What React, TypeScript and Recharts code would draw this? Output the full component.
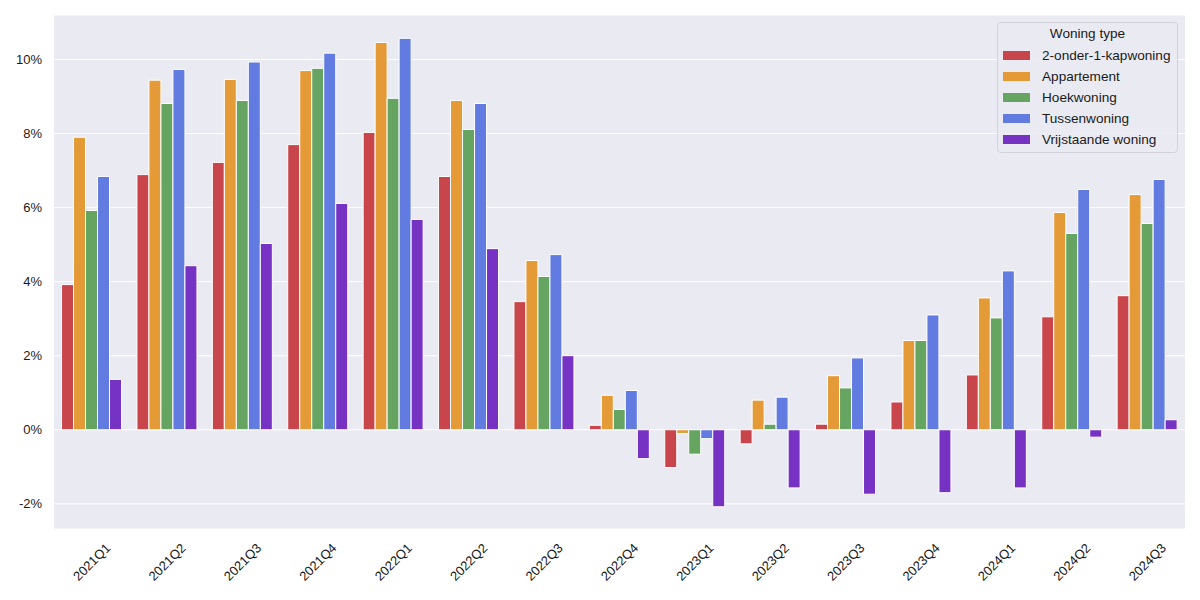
import { BarChart, Bar, XAxis, YAxis, CartesianGrid } from 'recharts';

const quarters = [
  '2021Q1', '2021Q2', '2021Q3', '2021Q4', '2022Q1', '2022Q2', '2022Q3', '2022Q4',
  '2023Q1', '2023Q2', '2023Q3', '2023Q4', '2024Q1', '2024Q2', '2024Q3',
];

const twoUnderOne = [3.92, 6.89, 7.22, 7.7, 8.03, 6.84, 3.46, 0.12, -1.02, -0.38, 0.15, 0.75, 1.48, 3.05, 3.62];
const appartement = [7.9, 9.44, 9.46, 9.7, 10.46, 8.89, 4.57, 0.93, -0.1, 0.8, 1.46, 2.41, 3.56, 5.87, 6.35];
const hoekwoning = [5.92, 8.81, 8.89, 9.76, 8.95, 8.11, 4.14, 0.55, -0.66, 0.15, 1.13, 2.41, 3.02, 5.3, 5.57];
const tussenwoning = [6.84, 9.73, 9.93, 10.17, 10.57, 8.81, 4.73, 1.06, -0.24, 0.88, 1.94, 3.1, 4.29, 6.49, 6.76];
const vrijstaand = [1.36, 4.43, 5.03, 6.11, 5.68, 4.89, 2.0, -0.78, -2.08, -1.57, -1.74, -1.7, -1.57, -0.2, 0.27];

const yTicks = [-2, 0, 2, 4, 6, 8, 10];

const series = [
  { key: '2-onder-1-kapwoning', values: twoUnderOne, color: '#c8464b' },
  { key: 'Appartement', values: appartement, color: '#e49a37' },
  { key: 'Hoekwoning', values: hoekwoning, color: '#66a462' },
  { key: 'Tussenwoning', values: tussenwoning, color: '#627be1' },
  { key: 'Vrijstaande woning', values: vrijstaand, color: '#7532c3' },
];

const data = quarters.map((q, i) => {
  const row: Record<string, string | number> = { quarter: q };
  series.forEach((s) => {
    row[s.key] = s.values[i];
  });
  return row;
});

const FONT = 'Arial, "Liberation Sans", sans-serif';

const XTick = ({ x, y, payload }: any) => (
  <g transform={`translate(${x},${y + 33})`}>
    <text
      transform="rotate(-45)"
      textAnchor="middle"
      dominantBaseline="central"
      fontSize={13}
      fontFamily={FONT}
      fill="#1a1a1a"
    >
      {payload.value}
    </text>
  </g>
);

// legend drawn as a plain overlay so it takes no room from the plot
const LegendBox = () => (
  <div
    style={{
      position: 'absolute',
      left: 997,
      top: 22,
      width: 181,
      height: 131,
      boxSizing: 'border-box',
      background: 'rgba(234,234,242,0.85)',
      border: '1px solid #d2d2da',
      borderRadius: 4,
      fontFamily: FONT,
      fontSize: 13.6,
      color: '#1a1a1a',
    }}
  >
    <div style={{ position: 'absolute', top: 3, left: 0, width: '100%', textAlign: 'center' }}>
      Woning type
    </div>
    {series.map((s, i) => (
      <div
        key={s.key}
        style={{ position: 'absolute', left: 5, top: 24 + i * 21, height: 16, display: 'flex', alignItems: 'center', whiteSpace: 'nowrap' }}
      >
        <span style={{ display: 'inline-block', width: 27, height: 9, background: s.color, marginRight: 12 }} />
        <span>{s.key}</span>
      </div>
    ))}
  </div>
);

export default function App() {
  return (
    <div style={{ position: 'absolute', left: 0, top: 0, width: 1200, height: 600, background: '#fff' }}>
      <BarChart
        width={1200}
        height={600}
        data={data}
        margin={{ top: 15, right: 15, left: 0, bottom: 0 }}
        barCategoryGap="10%"
        barGap={0}
      >
        <CartesianGrid vertical={false} stroke="#ffffff" strokeWidth={1} fill="#eaeaf2" />
        <XAxis
          dataKey="quarter"
          axisLine={false}
          tickLine={false}
          tickSize={0}
          tickMargin={0}
          height={71}
          interval={0}
          tick={<XTick />}
        />
        <YAxis
          width={54}
          domain={[-2.68, 11.2]}
          ticks={yTicks}
          axisLine={false}
          tickLine={false}
          tickSize={0}
          tickMargin={12}
          tickFormatter={(v) => `${v}%`}
          tick={{ fill: '#1a1a1a', fontSize: 13, fontFamily: FONT }}
        />
        {series.map((s) => (
          <Bar
            key={s.key}
            dataKey={s.key}
            fill={s.color}
            stroke="#ffffff"
            strokeWidth={1}
            isAnimationActive={false}
          />
        ))}
      </BarChart>
      <LegendBox />
    </div>
  );
}
